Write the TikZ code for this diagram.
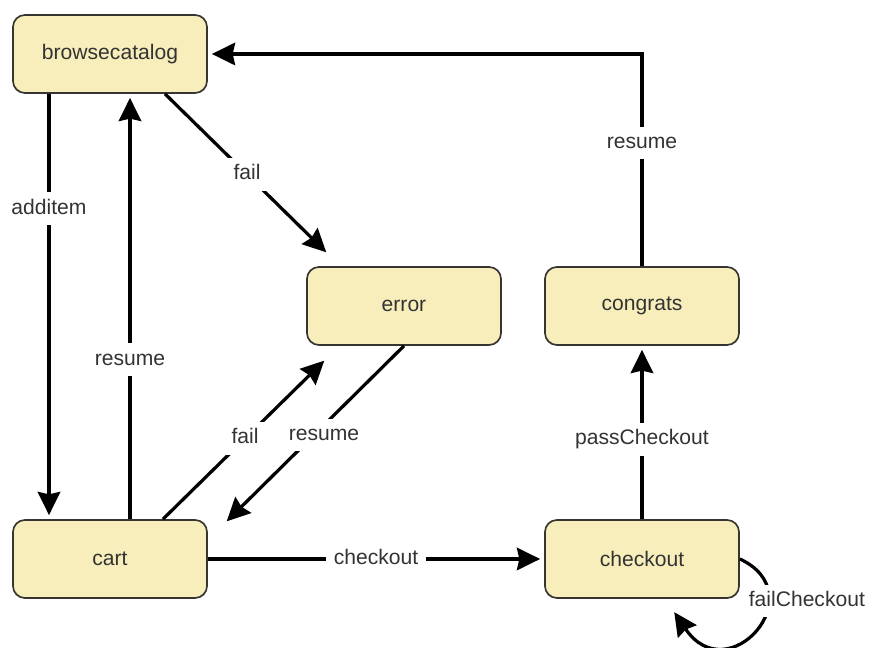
\documentclass[tikz,border=0pt]{standalone}
\usepackage{fontspec}
\setmainfont{Liberation Sans}
\usetikzlibrary{arrows.meta}

\definecolor{statefill}{RGB}{248,238,187}
\definecolor{stateline}{RGB}{56,52,48}
\definecolor{labeltext}{RGB}{51,51,51}

\begin{document}
\begin{tikzpicture}[x = .025cm, y = .025cm,
        font = \fontsize{15}{18}\selectfont,
        state/.style = {rectangle, rounded corners = .3cm, draw = stateline, line width = 1.2pt,
            fill = statefill, text = labeltext, minimum width = 4.85cm, minimum height = 1.95cm, inner sep = 0},
        trans/.style = {line width = 2.3pt, -{Stealth[length = .58cm, width = .56cm, inset = .06cm]},
            shorten > = .1cm},
        lbl/.style = {fill = white, text = labeltext, inner xsep = .2cm, inner ysep = .16cm,
            text height = .38cm, text depth = .11cm}]
    \useasboundingbox (0,0) rectangle (870,648);

    % Draw the states:
    \node [state] (browsecatalog) at (110,594) {browsecatalog};
    \node [state] (error)         at (404,342) {error};
    \node [state] (congrats)      at (642,342) {congrats};
    \node [state] (cart)          at (110, 89) {cart};
    \node [state] (checkout)      at (642, 89) {checkout};

    % Draw the transitions out of browsecatalog:
    \draw [trans] ([shift = {(-61,0)}]browsecatalog.south) -- node [lbl, pos = .27] {additem}
        ([shift = {(-61,0)}]cart.north);
    \draw [trans] ([shift = {(55,0)}]browsecatalog.south) -- node [lbl] {fail}
        ([shift = {(23,11)}]error.north west);

    % Draw the transitions out of cart:
    \draw [trans] ([shift = {(20,0)}]cart.north) -- node [lbl, pos = .375] {resume}
        ([shift = {(20,0)}]browsecatalog.south);
    \draw [trans] ([shift = {(53,0)}]cart.north) -- node [lbl] {fail}
        ([shift = {(21,-12)}]error.south west);
    \draw [trans] (cart) -- node [lbl] {checkout} (checkout);

    % Draw the transition out of error:
    \draw [trans] (error.south) -- node [lbl, xshift = .25cm] {resume}
        ([shift = {(16,-5)}]cart.north east);

    % Draw the transitions out of checkout and congrats:
    \draw [trans] (checkout) -- node [lbl, pos = .46] {passCheckout} (congrats);
    \draw [trans] (congrats.north) |- node [lbl, pos = .29] {resume} (browsecatalog.east);
    \draw [trans] (checkout.east) .. controls +(75,-35) and +(56,-83) .. ([shift = {(30,-10)}]checkout.south)
        node [lbl, pos = .3, xshift = .95cm] {failCheckout};
\end{tikzpicture}
\end{document}
